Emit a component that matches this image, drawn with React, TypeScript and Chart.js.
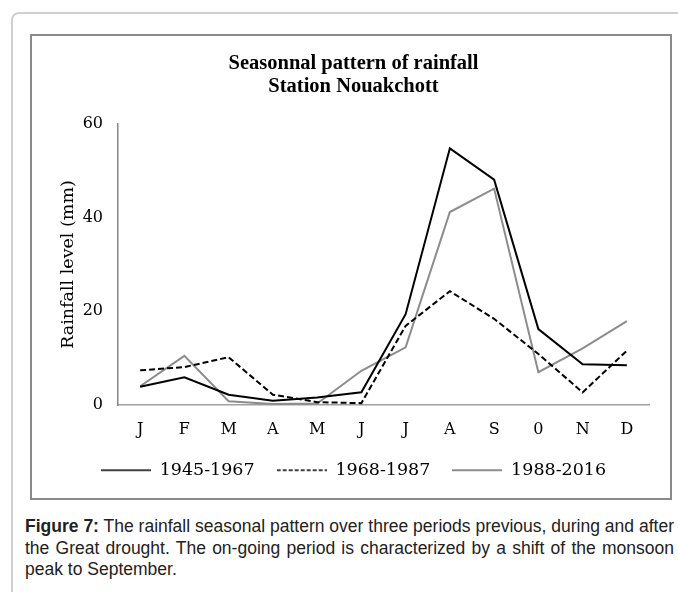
import React, { useEffect, useRef } from "react";
import { Chart, registerables } from "chart.js";

Chart.register(...registerables);

const months = ["J", "F", "M", "A", "M", "J", "J", "A", "S", "0", "N", "D"];
const period1Label = "1945-1967";
const period2Label = "1968-1987";
const period3Label = "1988-2016";
const period1 = [3.9, 5.9, 2.2, 0.9, 1.6, 2.7, 19.4, 54.8, 48.1, 16.2, 8.7, 8.5];
const period2 = [7.4, 8.1, 10.2, 2.2, 0.6, 0.4, 16.9, 24.3, 18.4, 10.9, 2.7, 11.6];
const period3 = [4.0, 10.5, 0.8, 0.2, 0.3, 7.3, 12.3, 41.2, 46.2, 7.0, 12.1, 17.9];
const titleLines = ["Seasonnal pattern of rainfall", "Station Nouakchott"];
const yAxisTitle = "Rainfall level (mm)";
const yMin = 0;
const yMax = 60;
const yStep = 20;

const SERIF = "'DejaVu Serif', serif";

function legendSample(color: string, width: number, dash: number[]) {
  const c = document.createElement("canvas");
  c.width = 50;
  c.height = 4;
  const ctx = c.getContext("2d");
  if (ctx) {
    ctx.strokeStyle = color;
    ctx.lineWidth = width;
    ctx.setLineDash(dash);
    ctx.beginPath();
    ctx.moveTo(0, 2);
    ctx.lineTo(50, 2);
    ctx.stroke();
  }
  return c;
}

export default function App() {
  const canvasRef = useRef<HTMLCanvasElement | null>(null);

  useEffect(() => {
    if (!canvasRef.current) return;
    const s1 = legendSample("#000000", 1.6, []);
    const s2 = legendSample("#000000", 1.6, [4, 2]);
    const s3 = legendSample("#8c8c8c", 1.8, []);
    const chart = new Chart(canvasRef.current, {
      type: "line",
      data: {
        labels: months,
        datasets: [
          {
            label: period1Label,
            data: period1,
            borderColor: "#000000",
            backgroundColor: "#000000",
            borderWidth: 2,
            pointRadius: 0,
            pointStyle: s1,
            tension: 0,
          },
          {
            label: period2Label,
            data: period2,
            borderColor: "#000000",
            backgroundColor: "#000000",
            borderWidth: 2,
            borderDash: [6, 3],
            pointRadius: 0,
            pointStyle: s2,
            tension: 0,
          },
          {
            label: period3Label,
            data: period3,
            borderColor: "#8c8c8c",
            backgroundColor: "#8c8c8c",
            borderWidth: 2,
            pointRadius: 0,
            pointStyle: s3,
            tension: 0,
          },
        ],
      },
      options: {
        responsive: false,
        animation: false,
        layout: { padding: { left: 26, right: 21, top: 0, bottom: 9 } },
        plugins: {
          title: {
            display: true,
            text: titleLines,
            color: "#000",
            font: { family: "'Liberation Serif', serif", size: 20.5, weight: "bold", lineHeight: "23px" },
            padding: { top: 16, bottom: 26 },
          },
          legend: {
            display: true,
            position: "bottom",
            labels: {
              usePointStyle: true,
              pointStyleWidth: 50,
              color: "#000",
              font: { family: SERIF, size: 17.5 },
              padding: 22,
            },
          },
          tooltip: { enabled: false },
        },
        scales: {
          x: {
            type: "category",
            offset: true,
            grid: { display: false, drawTicks: false },
            border: { display: true, color: "#a0a0a0", width: 1.5 },
            ticks: {
              color: "#000",
              font: { family: SERIF, size: 16 },
              padding: 15,
              autoSkip: false,
              maxRotation: 0,
            },
            afterFit: (scale: any) => {
              scale.height = 34.5;
            },
          },
          y: {
            min: yMin,
            max: yMax,
            grid: { display: false, drawTicks: false },
            border: { display: true, color: "#888888", width: 1.5 },
            ticks: {
              stepSize: yStep,
              color: "#000",
              font: { family: SERIF, size: 16 },
              padding: 15,
            },
            title: {
              display: true,
              text: yAxisTitle,
              color: "#000",
              font: { family: SERIF, size: 17.5 },
              padding: { top: 0, bottom: 4 },
            },
            afterFit: (scale: any) => {
              scale.width = 60;
            },
          },
        },
      },
    });
    return () => chart.destroy();
  }, []);

  return (
    <div
      style={{
        position: "absolute",
        left: 0,
        top: 0,
        width: 678,
        height: 592,
        overflow: "hidden",
        background: "#fff",
      }}
    >
      <div
        style={{
          position: "absolute",
          left: 11,
          top: 12,
          width: 720,
          height: 640,
          border: "2px solid #cfcfcf",
          borderRadius: 8,
          boxSizing: "border-box",
        }}
      />
      <div
        style={{
          position: "absolute",
          left: 30,
          top: 34,
          width: 642,
          height: 466,
          border: "2px solid #8a8a8a",
          boxSizing: "border-box",
          background: "#fff",
        }}
      />
      <canvas
        ref={canvasRef}
        width={638}
        height={462}
        style={{ position: "absolute", left: 32, top: 36, width: 638, height: 462 }}
      />
      <div
        style={{
          position: "absolute",
          left: 25,
          top: 516,
          width: 649,
          fontFamily: "'Liberation Sans', Arial, sans-serif",
          fontSize: 17.5,
          lineHeight: "21.5px",
          color: "#222",
        }}
      >
        <div style={{ textAlign: "justify", textAlignLast: "justify", whiteSpace: "nowrap" as const }}>
          <b>Figure 7:</b> The rainfall seasonal pattern over three periods previous, during and after
        </div>
        <div style={{ textAlign: "justify", textAlignLast: "justify" }}>
          the Great drought. The on-going period is characterized by a shift of the monsoon
        </div>
        <div>peak to September.</div>
      </div>
    </div>
  );
}
